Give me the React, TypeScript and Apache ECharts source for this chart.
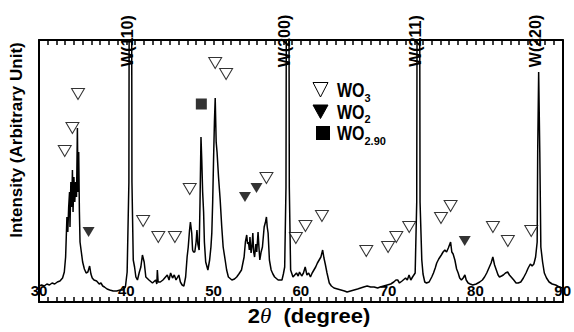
import React, { useEffect, useRef } from "react";
import * as echarts from "echarts";

const FONT = '"Liberation Sans", Arial, Helvetica, sans-serif';

const xMin = 30;
const xMax = 90;
const xLabelStep = 10;
const xTickStep = 1;
const yMax = 262;

// 2θ (degree), intensity (arbitrary)
const xrdPattern: [number, number][] = [
  [30.0, 16], [30.3, 17], [30.6, 16], [30.9, 18], [31.2, 17], [31.5, 19], [31.8, 18], [32.1, 20],
  [32.4, 21], [32.7, 24], [32.9, 30], [33.05, 45], [33.2, 85], [33.3, 70], [33.4, 95], [33.5, 110],
  [33.55, 75], [33.65, 120], [33.75, 95], [33.83, 132], [33.9, 90], [34.0, 125], [34.1, 100],
  [34.2, 120], [34.3, 105], [34.4, 174], [34.47, 110], [34.55, 150], [34.63, 90], [34.7, 60],
  [34.85, 50], [35.0, 40], [35.2, 33], [35.4, 29], [35.6, 30], [35.8, 36], [35.95, 28], [36.1, 24],
  [36.3, 22], [36.6, 21], [36.9, 18], [37.1, 19], [37.3, 16], [37.5, 15], [37.8, 13], [38.1, 12],
  [38.5, 11], [38.9, 11], [39.3, 12], [39.6, 12], [39.9, 15], [40.1, 30], [40.3, 120], [40.35, 400],
  [40.6, 400], [40.65, 120], [40.8, 42], [40.95, 35], [41.1, 25], [41.28, 22], [41.5, 30],
  [41.67, 35], [41.85, 47], [42.05, 40], [42.24, 25], [42.6, 22], [43.0, 19], [43.37, 22], [43.5, 18],
  [43.56, 32], [43.65, 20], [43.9, 20], [44.2, 22], [44.5, 25], [44.7, 27], [44.9, 22], [45.08, 29],
  [45.3, 24], [45.5, 27], [45.7, 22], [46.02, 27], [46.2, 20], [46.4, 17], [46.6, 16], [46.8, 25],
  [46.97, 45], [47.1, 55], [47.25, 72], [47.35, 80], [47.5, 69], [47.6, 52], [47.7, 50], [47.85, 50],
  [48.0, 60], [48.1, 72], [48.2, 58], [48.35, 52], [48.45, 100], [48.56, 165], [48.65, 142],
  [48.75, 110], [48.86, 90], [48.95, 60], [49.1, 40], [49.35, 32], [49.55, 42], [49.7, 55],
  [49.8, 69], [49.9, 100], [50.0, 142], [50.1, 180], [50.19, 204], [50.3, 160], [50.4, 150],
  [50.57, 125], [50.76, 102], [50.94, 75], [51.1, 55], [51.33, 42], [51.5, 32], [51.7, 25],
  [52.1, 22], [52.4, 23], [52.65, 25], [52.9, 28], [53.2, 32], [53.5, 45], [53.65, 60], [53.8, 67],
  [53.9, 58], [54.0, 60], [54.1, 52], [54.17, 65], [54.3, 49], [54.4, 55], [54.5, 69], [54.6, 50],
  [54.7, 45], [54.85, 58], [54.95, 50], [55.1, 70], [55.2, 55], [55.3, 42], [55.45, 50], [55.6, 55],
  [55.8, 75], [55.95, 80], [56.06, 85], [56.15, 75], [56.25, 69], [56.4, 42], [56.6, 32], [56.8, 28],
  [57.0, 25], [57.4, 22], [57.84, 22], [58.0, 28], [58.15, 35], [58.3, 115], [58.36, 400],
  [58.62, 400], [58.68, 115], [58.83, 32], [59.1, 25], [59.3, 27], [59.5, 29], [59.7, 26], [59.85, 30],
  [60.1, 26], [60.3, 29], [60.5, 35], [60.7, 27], [60.9, 29], [61.1, 25], [61.3, 29], [61.5, 32],
  [61.7, 35], [61.9, 39], [62.1, 42], [62.3, 45], [62.5, 52], [62.65, 44], [62.8, 38], [63.0, 29],
  [63.26, 19], [63.5, 16], [63.8, 14], [64.2, 13], [64.6, 12], [65.0, 11], [65.3, 10], [65.7, 11],
  [66.1, 12], [66.5, 13], [66.85, 14], [67.2, 15], [67.6, 16], [68.0, 15], [68.4, 15], [68.8, 14],
  [69.1, 15], [69.5, 16], [69.9, 17], [70.3, 18], [70.65, 20], [70.9, 22], [71.1, 22], [71.3, 19],
  [71.6, 21], [72.0, 24], [72.2, 22], [72.4, 27], [72.6, 22], [72.8, 25], [73.1, 29], [73.28, 100],
  [73.34, 400], [73.6, 400], [73.66, 100], [73.86, 42], [74.0, 28], [74.2, 20], [74.4, 19], [74.7, 20],
  [75.0, 25], [75.2, 29], [75.4, 34], [75.57, 39], [75.8, 43], [76.1, 47], [76.3, 50], [76.5, 52],
  [76.7, 50], [76.9, 54], [77.16, 60], [77.3, 50], [77.45, 48], [77.65, 42], [77.85, 33], [78.03, 29],
  [78.2, 24], [78.4, 22], [78.6, 24], [78.8, 27], [78.95, 22], [79.17, 19], [79.4, 18], [79.7, 17],
  [80.1, 18], [80.5, 20], [80.8, 22], [81.05, 25], [81.3, 29], [81.6, 35], [81.8, 39], [82.0, 45],
  [82.2, 37], [82.4, 32], [82.6, 27], [82.76, 25], [83.0, 26], [83.2, 27], [83.45, 29], [83.7, 30],
  [83.9, 27], [84.1, 25], [84.4, 22], [84.66, 19], [84.9, 19], [85.2, 20], [85.5, 24], [85.8, 29],
  [86.05, 34], [86.3, 38], [86.5, 36], [86.7, 38], [86.9, 45], [87.08, 60], [87.14, 150],
  [87.25, 230], [87.38, 150], [87.5, 55], [87.7, 40], [87.9, 29], [88.15, 24], [88.45, 20],
  [88.8, 18], [89.2, 17], [89.6, 15], [90.0, 14],
];

// W reflections (label anchor angle, label level)
const wPeakNames = ["W(110)", "W(200)", "W(211)", "W(220)"];
const wPeakLabelAngles = [40.1, 58.1, 73.1, 86.85];
const wPeakLabelLevel = 261;

// phase markers [2θ, level]
const wo3Markers: [number, number][] = [
  [32.95, 151], [33.83, 174], [34.47, 208], [41.93, 81], [43.67, 65], [45.57, 65], [47.27, 113],
  [50.19, 239], [51.44, 228], [56.06, 124], [59.43, 64], [60.53, 76], [62.42, 86], [67.5, 51],
  [70.0, 55], [70.94, 65], [72.42, 75], [76.06, 84], [77.16, 96], [82.01, 75], [83.72, 61],
  [86.4, 71],
];
const wo2Markers: [number, number][] = [[35.68, 70], [53.6, 105], [54.92, 114], [78.78, 61]];
const wo290Markers: [number, number][] = [[48.6, 198]];

const legendMain = ["WO", "WO", "WO"];
const legendSub = ["3", "2", "2.90"];

export default function App() {
  const ref = useRef<HTMLDivElement>(null);

  useEffect(() => {
    if (!ref.current) return;
    const chart = echarts.init(ref.current, undefined, { renderer: "svg" });

    const frameLine = { show: true, onZero: false, lineStyle: { color: "#000", width: 2 } };
    const tickStyle = { show: true, inside: true, length: 5, lineStyle: { color: "#000", width: 1.5 } };
    const xAxisCommon = {
      type: "value" as const,
      min: xMin,
      max: xMax,
      interval: xTickStep,
      axisLine: frameLine,
      axisTick: tickStyle,
      splitLine: { show: false },
    };
    const yAxisCommon = {
      type: "value" as const,
      min: 0,
      max: yMax,
      axisLine: frameLine,
      axisTick: { show: false },
      axisLabel: { show: false },
      splitLine: { show: false },
    };

    chart.setOption({
      animation: false,
      backgroundColor: "#fff",
      grid: { left: 39, right: 7, top: 40, bottom: 30 },
      xAxis: [
        {
          ...xAxisCommon,
          position: "bottom",
          axisLabel: {
            show: true,
            inside: true,
            margin: 4,
            color: "#000",
            fontSize: 15,
            fontWeight: "bold",
            fontFamily: FONT,
            showMinLabel: true,
            showMaxLabel: true,
            formatter: (v: number) => (Math.round(v) % xLabelStep === 0 ? String(Math.round(v)) : ""),
          },
        },
        {
          ...xAxisCommon,
          position: "top",
          axisLabel: { show: false },
        },
      ],
      yAxis: [
        { ...yAxisCommon, position: "left" },
        { ...yAxisCommon, position: "right" },
      ],
      series: [
        {
          name: "XRD",
          type: "line",
          data: xrdPattern,
          showSymbol: false,
          symbol: "none",
          clip: true,
          lineStyle: { color: "#000", width: 1.5 },
          z: 2,
        },
        {
          name: "WO3",
          type: "scatter",
          data: wo3Markers,
          symbol: "triangle",
          symbolRotate: 180,
          symbolSize: [13, 11],
          itemStyle: { color: "#fff", borderColor: "#000", borderWidth: 1 },
          clip: false,
          z: 3,
        },
        {
          name: "WO2",
          type: "scatter",
          data: wo2Markers,
          symbol: "triangle",
          symbolRotate: 180,
          symbolSize: [12, 10],
          itemStyle: { color: "#000" },
          clip: false,
          z: 3,
        },
        {
          name: "WO2.90",
          type: "scatter",
          data: wo290Markers,
          symbol: "rect",
          symbolSize: 11,
          itemStyle: { color: "#000" },
          clip: false,
          z: 3,
        },
      ],
    });

    const rowY = [90, 111.5, 133];
    const graphics: any[] = [
      {
        type: "text",
        x: 16,
        y: 140,
        rotation: Math.PI / 2,
        style: {
          text: "Intensity (Arbitrary Unit)",
          fill: "#000",
          fontSize: 17,
          fontWeight: "bold",
          fontFamily: FONT,
          align: "center",
          verticalAlign: "middle",
        },
      },
      {
        type: "text",
        x: 309,
        y: 316,
        scaleX: 1.1,
        style: {
          text: "{a|2}{t|θ}{a|  (degree)}",
          align: "center",
          verticalAlign: "middle",
          rich: {
            a: { fontSize: 20, fontWeight: "bold", fontFamily: FONT, fill: "#000" },
            t: {
              fontSize: 21,
              fontStyle: "italic",
              fontWeight: "normal",
              fontFamily: '"Liberation Serif", "Times New Roman", serif',
              fill: "#000",
            },
          },
        },
      },
      {
        type: "polygon",
        shape: { points: [[313, rowY[0] - 7.5], [328, rowY[0] - 7.5], [320.5, rowY[0] + 7]] },
        style: { fill: "#fff", stroke: "#000", lineWidth: 1 },
      },
      {
        type: "polygon",
        shape: { points: [[313, rowY[1] - 6.5], [328, rowY[1] - 6.5], [320.5, rowY[1] + 7]] },
        style: { fill: "#000", stroke: "#000", lineWidth: 1 },
      },
      {
        type: "rect",
        shape: { x: 316, y: rowY[2] - 7, width: 14, height: 14 },
        style: { fill: "#000" },
      },
    ];
    legendMain.forEach((t, i) => {
      graphics.push({
        type: "text",
        x: 337,
        y: rowY[i],
        scaleY: 1.3,
        style: {
          text: t,
          fill: "#000",
          fontSize: 16,
          fontWeight: "bold",
          fontFamily: FONT,
          align: "left",
          verticalAlign: "middle",
        },
      });
      graphics.push({
        type: "text",
        x: 364.5,
        y: rowY[i] + 7.5,
        style: {
          text: legendSub[i],
          fill: "#000",
          fontSize: 11,
          fontWeight: "bold",
          fontFamily: FONT,
          align: "left",
          verticalAlign: "middle",
        },
      });
    });
    wPeakNames.forEach((name, i) => {
      const p = chart.convertToPixel({ xAxisIndex: 0, yAxisIndex: 0 }, [wPeakLabelAngles[i], wPeakLabelLevel]) as number[];
      graphics.push({
        type: "text",
        x: p[0],
        y: p[1],
        rotation: Math.PI / 2,
        z: 10,
        style: {
          text: name,
          fill: "#000",
          fontSize: 16,
          fontWeight: "bold",
          fontFamily: FONT,
          align: "center",
          verticalAlign: "middle",
        },
      });
    });
    chart.setOption({ graphic: graphics });

    return () => chart.dispose();
  }, []);

  return (
    <div
      ref={ref}
      style={{ position: "fixed", left: 0, top: 0, width: 574, height: 332, background: "#fff" }}
    />
  );
}
